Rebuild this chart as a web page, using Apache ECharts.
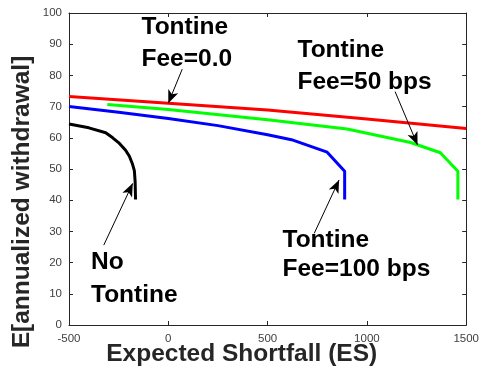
<!DOCTYPE html>
<html>
<head>
<meta charset="utf-8">
<script src="https://cdn.jsdelivr.net/npm/echarts@6/dist/echarts.min.js"></script>
<style>
html,body{margin:0;padding:0;background:#fff;}
#c{width:482px;height:376px;}
</style>
</head>
<body>
<div id="c"></div>
<script>
// Data (x = Expected Shortfall, y = E[annualized withdrawal])
var noTontineX = [-500, -400, -315, -280, -246, -215, -196, -180, -171, -167, -165];
var noTontineY = [64.4, 63.2, 61.6, 60.0, 58.2, 56.0, 54.1, 51.5, 49.5, 46.0, 40.2];
var fee0X = [-500, 0, 500, 1000, 1500];
var fee0Y = [73.2, 71.1, 68.9, 66.0, 63.0];
var fee50X = [-307, 0, 500, 900, 1220, 1370, 1458, 1458];
var fee50Y = [70.7, 69.1, 65.8, 62.8, 58.5, 55.2, 49.3, 40.2];
var fee100X = [-500, -250, 0, 250, 500, 620, 800, 888, 888];
var fee100Y = [70.0, 68.2, 66.2, 63.9, 61.0, 59.4, 55.4, 49.3, 40.2];
var xTicks = [-500, 0, 500, 1000, 1500];
var yTicks = [0, 10, 20, 30, 40, 50, 60, 70, 80, 90, 100];
// annotation arrows: [fromX, fromY, toX, toY]
var arrowFee0 = [70, 82, 0, 71.1];
var arrowFee50 = [1142, 74.8, 1255, 57.7];
var arrowNo = [-325, 25.6, -179, 45.4];
var arrowFee100 = [735, 29.4, 860, 46.5];

function zip(xs, ys) { return xs.map(function (x, i) { return [x, ys[i]]; }); }
function arrow(a) {
  return [{ coord: [a[0], a[1]], symbol: 'none' }, { coord: [a[2], a[3]], symbol: 'arrow' }];
}

var FONT = '"Liberation Sans", Arial, Helvetica, sans-serif';
var axisColor = '#262626';
var labelColor = '#404040';

var chart = echarts.init(document.getElementById('c'), null, { renderer: 'canvas' });

function mkX(pos, show) {
  return {
    type: 'value', position: pos, min: xTicks[0], max: xTicks[xTicks.length - 1], interval: 500,
    axisLine: { show: true, onZero: false, lineStyle: { color: axisColor, width: 1 } },
    axisTick: { show: true, inside: true, length: 4, lineStyle: { color: axisColor } },
    axisLabel: { show: show, color: labelColor, fontFamily: FONT, fontSize: 11.5, margin: 8,
      formatter: function (v) { return String(v); } },
    splitLine: { show: false }
  };
}
function mkY(pos, show) {
  return {
    type: 'value', position: pos, min: yTicks[0], max: yTicks[yTicks.length - 1], interval: 10,
    axisLine: { show: true, onZero: false, lineStyle: { color: axisColor, width: 1 } },
    axisTick: { show: true, inside: true, length: 4, lineStyle: { color: axisColor } },
    axisLabel: { show: show, color: labelColor, fontFamily: FONT, fontSize: 11.5, margin: 7,
      formatter: function (v) { return String(v); } },
    splitLine: { show: false }
  };
}

function lineSeries(name, data, color) {
  return {
    name: name, type: 'line', data: data, showSymbol: false, symbol: 'none',
    lineStyle: { color: color, width: 3 }, itemStyle: { color: color },
    silent: true, animation: false, z: 2
  };
}

var arrowLines = {
  type: 'line', data: [], silent: true, animation: false, z: 5,
  markLine: {
    silent: true, animation: false,
    symbolSize: [8, 13],
    lineStyle: { color: '#000', width: 1, type: 'solid' },
    itemStyle: { color: '#000' },
    label: { show: false },
    data: [arrow(arrowFee0), arrow(arrowFee50), arrow(arrowNo), arrow(arrowFee100)]
  }
};

function txt(x, y, s) {
  return {
    type: 'text', left: x, top: y, z: 10, silent: true,
    style: { text: s, font: 'bold 24.5px ' + FONT, fill: '#000', textAlign: 'left', textVerticalAlign: 'top' }
  };
}

chart.setOption({
  animation: false,
  backgroundColor: '#fff',
  grid: { left: 69, right: 12, top: 13, bottom: 51, containLabel: false },
  xAxis: [mkX('bottom', true), mkX('top', false)],
  yAxis: [mkY('left', true), mkY('right', false)],
  series: [
    lineSeries('No Tontine', zip(noTontineX, noTontineY), '#000000'),
    lineSeries('Fee=0.0', zip(fee0X, fee0Y), '#ff0000'),
    lineSeries('Fee=50 bps', zip(fee50X, fee50Y), '#00ff00'),
    lineSeries('Fee=100 bps', zip(fee100X, fee100Y), '#0000ff'),
    arrowLines
  ],
  graphic: [
    txt(141.5, 15, 'Tontine'),
    txt(141.5, 47, 'Fee=0.0'),
    txt(297.5, 38, 'Tontine'),
    txt(297.5, 70, 'Fee=50 bps'),
    txt(91, 250, 'No'),
    txt(91, 283, 'Tontine'),
    txt(282.5, 227.5, 'Tontine'),
    txt(282.5, 256.5, 'Fee=100 bps'),
    {
      type: 'text', x: 241.7, y: 354, z: 10, silent: true,
      style: { text: 'Expected Shortfall (ES)', font: 'bold 24.5px ' + FONT, fill: axisColor, textAlign: 'center', textVerticalAlign: 'middle' }
    },
    {
      type: 'text', x: 22, y: 202, rotation: Math.PI / 2, z: 10, silent: true,
      style: { text: 'E[annualized withdrawal]', font: 'bold 24.5px ' + FONT, fill: axisColor, textAlign: 'center', textVerticalAlign: 'middle' }
    }
  ]
});
</script>
</body>
</html>
